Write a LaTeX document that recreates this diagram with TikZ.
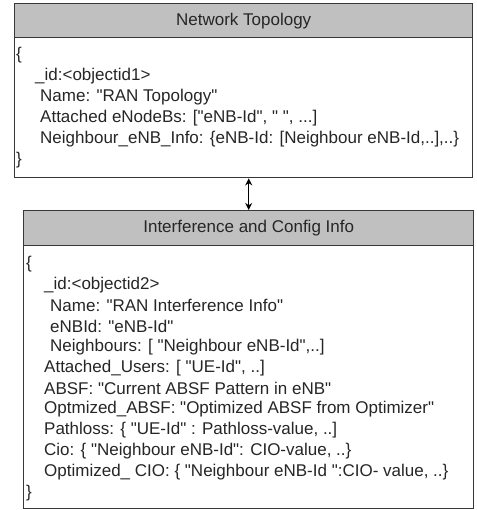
\documentclass[tikz,border=0pt]{standalone}
\usepackage{fontspec}
\newfontfamily\lsans{Liberation Sans}
\usetikzlibrary{arrows.meta}
\definecolor{headgray}{RGB}{192,192,192}
\definecolor{linegray}{RGB}{55,55,55}
\begin{document}
\begin{tikzpicture}[x=1pt,y=-1pt,
  hdr/.style={draw=linegray, fill=headgray, line width=1.4pt, anchor=north west, inner sep=0pt, font=\lsans\fontsize{17}{20}\selectfont, text=black!85},
  bodybox/.style={draw=linegray, fill=white, line width=1.4pt, anchor=north west, inner sep=0pt},
  txt/.style={anchor=west, inner sep=0pt, font=\lsans\fontsize{17}{20}\selectfont, text=black!85},
  link/.style={draw=black, line width=1.2pt, {Stealth[length=7pt,width=7pt]}-{Stealth[length=7pt,width=7pt]}}]
\useasboundingbox (0,0) rectangle (476,510);
% top box
\node[bodybox, minimum width=458pt, minimum height=140pt] (body1) at (14,37) {};
\node[hdr, minimum width=458pt, minimum height=34pt] (head1) at (14,3) {Network Topology};
\node[txt] (t1a) at (16,55) {\{};
\node[txt] (t1b) at (35,76) {\_id:<objectid1>};
\node[txt] (t1c) at (40,97) {Name: "RAN Topology"};
\node[txt] (t1d) at (40,118) {Attached eNodeBs: ["eNB-Id", " ", ...]};
\node[txt] (t1e) at (40,139) {Neighbour\_eNB\_Info: \{eNB-Id: [Neighbour eNB-Id,..],..\}};
\node[txt] (t1f) at (16,160) {\}};
% bottom box
\node[bodybox, minimum width=450pt, minimum height=263pt] (body2) at (23,245) {};
\node[hdr, minimum width=450pt, minimum height=35pt] (head2) at (23,210) {Interference and Config Info};
\node[txt] (t2a) at (26,264) {\{};
\node[txt] (t2b) at (44,284.8) {\_id:<objectid2>};
\node[txt] (t2c) at (50,305.6) {Name: "RAN Interference Info"};
\node[txt] (t2d) at (50,326.4) {eNBId: "eNB-Id"};
\node[txt] (t2e) at (50,347.2) {Neighbours: [ "Neighbour eNB-Id",..]};
\node[txt] (t2f) at (44,368) {Attached\_Users: [ "UE-Id", ..]};
\node[txt] (t2g) at (44,388.8) {ABSF: "Current ABSF Pattern in eNB"};
\node[txt] (t2h) at (44,409.6) {Optmized\_ABSF: "Optimized ABSF from Optimizer"};
\node[txt] (t2i) at (44,430.4) {Pathloss: \{ "UE-Id" : Pathloss-value, ..]};
\node[txt] (t2j) at (44,451.2) {Cio: \{ "Neighbour eNB-Id": CIO-value, ..\}};
\node[txt] (t2k) at (44,472) {Optimized\_ CIO: \{ "Neighbour eNB-Id ":CIO- value, ..\}};
\node[txt] (t2l) at (26,492.8) {\}};
% connector
\draw[link] (body1.south -| head2.north) -- (head2.north);
\end{tikzpicture}
\end{document}
